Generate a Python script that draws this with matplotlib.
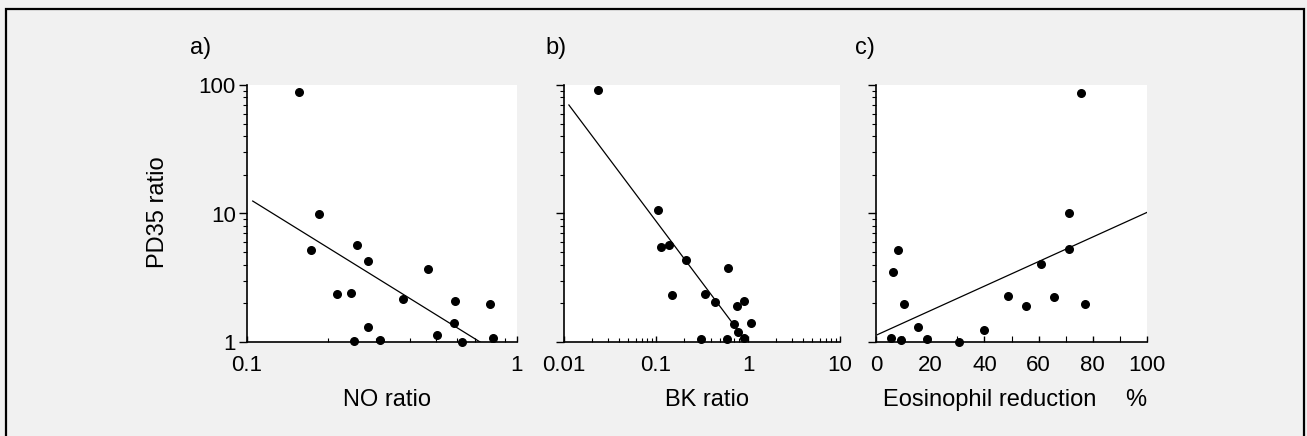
import matplotlib.pyplot as plt
from matplotlib.patches import Rectangle
from matplotlib.ticker import LogLocator, NullFormatter, MultipleLocator

plt.rcParams['font.family'] = ['Liberation Sans', 'DejaVu Sans']

# a) NO ratio vs PD35 ratio
no_ratio = [0.156, 0.185, 0.172, 0.255, 0.281, 0.216, 0.243, 0.281, 0.249,
            0.311, 0.379, 0.467, 0.505, 0.589, 0.585, 0.625, 0.796, 0.815]
pd35_a = [88.7, 9.9, 5.24, 5.67, 4.28, 2.35, 2.41, 1.32, 1.02,
          1.03, 2.18, 3.73, 1.14, 2.07, 1.41, 1.0, 1.97, 1.08]
fit_a_x = [0.105, 0.73]
fit_a_y = [12.5, 1.0]

# b) BK ratio vs PD35 ratio
bk_ratio = [0.0232, 0.104, 0.112, 0.138, 0.212, 0.151, 0.341, 0.438, 0.611,
            0.753, 0.906, 0.710, 1.07, 0.785, 0.906, 0.306, 0.596]
pd35_b = [91, 10.6, 5.5, 5.73, 4.38, 2.31, 2.38, 2.05, 3.77,
          1.91, 2.09, 1.39, 1.41, 1.20, 1.08, 1.06, 1.06]
fit_b_x = [0.0113, 0.968]
fit_b_y = [69.9, 1.0]

# c) Eosinophil reduction (%) vs PD35 ratio
eos_red = [75.6, 71.4, 8.0, 6.2, 10.5, 15.6, 5.4, 9.2, 18.7, 30.8, 40.0,
           48.6, 55.3, 61.0, 65.5, 71.2, 77.0]
pd35_c = [87, 10.0, 5.24, 3.51, 1.99, 1.31, 1.07, 1.03, 1.06, 1.0, 1.25,
          2.28, 1.90, 4.08, 2.22, 5.34, 1.97]
fit_c_x = [0.5, 100]
fit_c_y = [1.14, 10.2]

W, H = 1307, 436
fig = plt.figure(figsize=(W / 100, H / 100), dpi=100, facecolor='#f1f1f1')

# frame round the whole figure (bottom edge falls outside the picture)
fig.add_artist(Rectangle((6 / W, -0.1), (1304 - 6) / W, (H - 9.5) / H + 0.1,
                         transform=fig.transFigure, fill=False, lw=1.6, color='black'))


def make_axes(left_px, width_px):
    ax = fig.add_axes([left_px / W, (H - 342) / H, width_px / W, 257 / H])
    ax.set_facecolor('white')
    ax.spines['top'].set_visible(False)
    ax.spines['right'].set_visible(False)
    ax.spines['left'].set_linewidth(1.2)
    ax.spines['bottom'].set_linewidth(1.2)
    ax.set_yscale('log')
    ax.set_ylim(1, 100)
    ax.set_yticks([1, 10, 100])
    ax.yaxis.set_minor_locator(LogLocator(base=10, subs=range(2, 10)))
    ax.yaxis.set_minor_formatter(NullFormatter())
    ax.tick_params(axis='y', which='major', direction='out', length=6, width=1, pad=2,
                   labelsize=16)
    ax.tick_params(axis='y', which='minor', direction='out', length=3, width=0.8)
    ax.tick_params(axis='x', which='major', direction='in', length=4, width=1, pad=9,
                   labelsize=16)
    ax.tick_params(axis='x', which='minor', direction='in', length=3, width=0.8)
    return ax


dot = dict(color='black', s=30, zorder=3, clip_on=False)
line = dict(color='black', lw=0.9)

# panel a
ax1 = make_axes(247, 270)
ax1.scatter(no_ratio, pd35_a, **dot)
ax1.plot(fit_a_x, fit_a_y, **line)
ax1.set_xscale('log')
ax1.set_xlim(0.1, 1)
ax1.set_xticks([0.1, 1], ['0.1', '1'])
ax1.xaxis.set_minor_locator(LogLocator(base=10, subs=range(2, 10)))
ax1.xaxis.set_minor_formatter(NullFormatter())
ax1.set_yticklabels(['1', '10', '100'])
ax1.set_ylabel('PD35 ratio', fontsize=17, va='center')
ax1.yaxis.set_label_coords(-0.33, 0.506)
ax1.set_xlabel('NO ratio', fontsize=17, va='center')
ax1.xaxis.set_label_coords(0.519, -0.226)

# panel b
ax2 = make_axes(564, 276)
ax2.scatter(bk_ratio, pd35_b, **dot)
ax2.plot(fit_b_x, fit_b_y, **line)
ax2.set_xscale('log')
ax2.set_xlim(0.01, 10)
ax2.set_xticks([0.01, 0.1, 1, 10], ['0.01', '0.1', '1', '10'])
ax2.xaxis.set_minor_locator(LogLocator(base=10, subs=range(2, 10)))
ax2.xaxis.set_minor_formatter(NullFormatter())
ax2.set_yticklabels([])
ax2.set_xlabel('BK ratio', fontsize=17, va='center')
ax2.xaxis.set_label_coords((707 - 564) / 276, -0.226)

# panel c
ax3 = make_axes(876, 271)
ax3.scatter(eos_red, pd35_c, **dot)
ax3.plot(fit_c_x, fit_c_y, **line)
ax3.set_xlim(0, 100)
ax3.set_xticks([0, 20, 40, 60, 80, 100])
ax3.xaxis.set_minor_locator(MultipleLocator(10))
ax3.tick_params(axis='x', which='minor', length=4)
ax3.set_yticklabels([])
ax3.set_xlabel('Eosinophil reduction', fontsize=17, va='center')
ax3.xaxis.set_label_coords((990 - 876) / 271, -0.226)
fig.text(1136 / W, 1 - 400 / H, '%', fontsize=17, ha='center', va='center')

# panel letters
for x_px, lab in [(201, 'a)'), (556, 'b)'), (865, 'c)')]:
    fig.text(x_px / W, 1 - 48 / H, lab, fontsize=17, ha='center', va='center')

plt.savefig('out.png', dpi=100, facecolor=fig.get_facecolor())
